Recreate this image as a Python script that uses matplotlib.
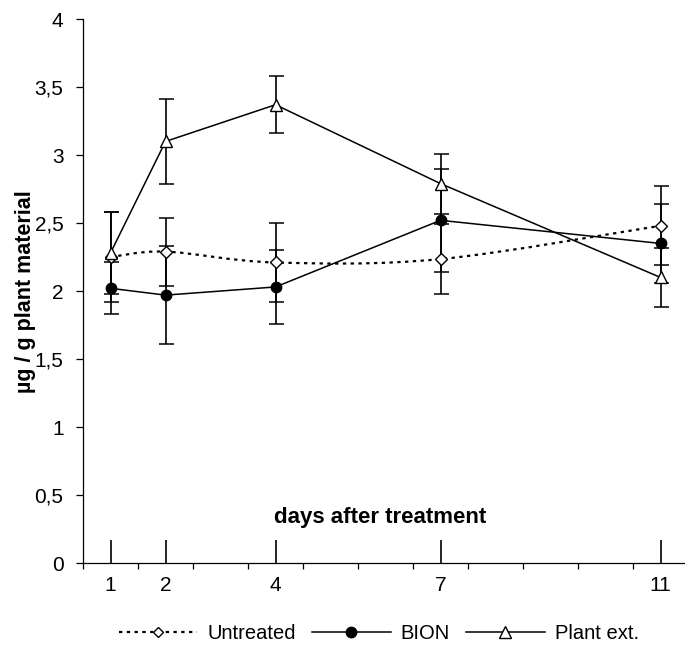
import matplotlib
matplotlib.use("Agg")
import matplotlib.pyplot as plt
from matplotlib.path import Path
from matplotlib.patches import PathPatch
from matplotlib.lines import Line2D
from matplotlib.ticker import FuncFormatter, FixedLocator
import numpy as np

plt.rcParams['font.family'] = ['Liberation Sans', 'DejaVu Sans']

# Sampling days and measured contents (µg / g plant material) with error bars
days = [1, 2, 4, 7, 11]
day_labels = ["1", "2", "4", "7", "11"]

untreated = [2.25, 2.29, 2.21, 2.235, 2.48]
untreated_err = [0.33, 0.25, 0.29, 0.26, 0.29]

bion = [2.02, 1.97, 2.03, 2.52, 2.35]
bion_err = [0.19, 0.36, 0.27, 0.38, 0.29]

plant_ext = [2.28, 3.10, 3.37, 2.79, 2.10]
plant_ext_err = [0.30, 0.31, 0.21, 0.22, 0.22]

series_names = ["Untreated", "BION", "Plant ext."]

fig = plt.figure(figsize=(6.85, 6.5), dpi=100)
ax = fig.add_axes([0.1212, 0.1338, 0.8832, 0.8369])

LW = 1.1
ERR = dict(fmt='none', ecolor='black', elinewidth=1.2, capsize=5.4, capthick=1.1, zorder=2)


def smooth_path(xs, ys):
    """Cubic Bezier through the points (Catmull-Rom style tangents)."""
    pts = np.column_stack([xs, ys]).astype(float)
    n = len(pts)
    verts = [pts[0]]
    codes = [Path.MOVETO]
    for i in range(n - 1):
        p0 = pts[i - 1] if i > 0 else pts[i]
        p1 = pts[i]
        p2 = pts[i + 1]
        p3 = pts[i + 2] if i + 2 < n else pts[i + 1]
        c1 = p1 + (p2 - p0) / 6.0
        c2 = p2 - (p3 - p1) / 6.0
        verts += [c1, c2, p2]
        codes += [Path.CURVE4] * 3
    return Path(verts, codes)


dotted = (0, (1.5, 2.0))

# Untreated: smoothed dotted line with open diamonds
ax.errorbar(days, untreated, yerr=untreated_err, **ERR)
ax.add_patch(PathPatch(smooth_path(days, untreated), fill=False, edgecolor='black',
                       linewidth=1.6, linestyle=dotted, zorder=3))
ax.plot(days, untreated, linestyle='none', marker='D', markersize=6,
        markerfacecolor='white', markeredgecolor='black', markeredgewidth=1.0, zorder=4)

# BION: solid line, filled circles
ax.errorbar(days, bion, yerr=bion_err, **ERR)
ax.plot(days, bion, color='black', linewidth=LW, marker='o', markersize=7.5,
        markerfacecolor='black', markeredgecolor='black', zorder=5)

# Plant extract: solid line, open triangles
ax.errorbar(days, plant_ext, yerr=plant_ext_err, **ERR)
ax.plot(days, plant_ext, color='black', linewidth=LW, marker='^', markersize=9,
        markerfacecolor='white', markeredgecolor='black', markeredgewidth=1.0, zorder=6)

# Axes
ax.set_xlim(0.5, 11.5)
ax.set_ylim(0, 4)
for side in ('top', 'right'):
    ax.spines[side].set_visible(False)
for side in ('left', 'bottom'):
    ax.spines[side].set_linewidth(0.9)
    ax.spines[side].set_color('black')

ax.set_yticks(np.arange(0, 4.01, 0.5))
ax.yaxis.set_major_formatter(FuncFormatter(lambda v, p: ('%g' % v).replace('.', ',')))
ax.tick_params(axis='y', direction='out', length=5, width=0.9, labelsize=15, pad=9)

ax.set_xticks(days)
ax.set_xticklabels(day_labels)
ax.xaxis.set_minor_locator(FixedLocator(np.arange(0.5, 11.6, 1.0)))
ax.tick_params(axis='x', which='major', direction='in', length=16.5, width=1.2,
               labelsize=15, pad=9.5)
ax.tick_params(axis='x', which='minor', direction='out', length=4.5, width=0.9)

fig.text(0.5547, 0.2046, "days after treatment", fontsize=16, fontweight='bold',
         ha='center', va='center')
fig.text(0.037, 0.552, "µg / g plant material", fontsize=15.5, fontweight='bold',
         rotation=90, ha='center', va='center')

handles = [
    Line2D([], [], color='black', linewidth=1.6, linestyle=dotted, marker='D', markersize=5.5,
           markerfacecolor='white', markeredgecolor='black'),
    Line2D([], [], color='black', linewidth=LW, marker='o', markersize=7.5,
           markerfacecolor='black', markeredgecolor='black'),
    Line2D([], [], color='black', linewidth=LW, marker='^', markersize=9,
           markerfacecolor='white', markeredgecolor='black'),
]
fig.legend(handles, series_names, loc='center', bbox_to_anchor=(0.553, 0.026), ncol=3,
           frameon=False, fontsize=14.5, handlelength=3.9, handletextpad=0.5,
           columnspacing=0.8, borderpad=0)

fig.savefig("out.png", dpi=100)
